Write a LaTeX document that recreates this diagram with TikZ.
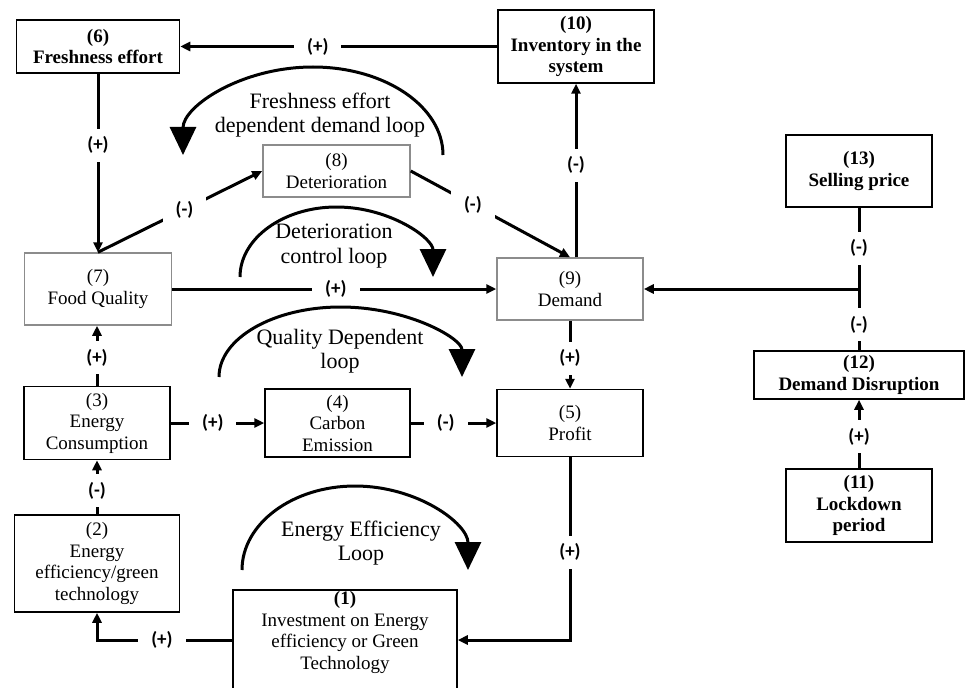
\documentclass[tikz,border=0pt]{standalone}
\usepackage{fontspec}
\setmainfont{Liberation Serif}
\newfontfamily\lblfont{Carlito}
\usetikzlibrary{arrows.meta}
\begin{document}
\begin{tikzpicture}[x=1pt,y=-1pt,
  box/.style={draw=black, line width=1.5pt, fill=white, align=center, inner sep=1pt, font=\fontsize{19}{21.5}\selectfont},
  gbox/.style={box, draw=black!45},
  bbox/.style={box, font=\fontsize{19}{21.5}\selectfont\bfseries},
  conn/.style={line width=3pt, -{Triangle[length=10pt,width=9pt]}},
  plain/.style={line width=3pt},
  lbl/.style={fill=white, font=\lblfont\bfseries\fontsize{19}{19}\selectfont, inner xsep=13pt, inner ysep=8pt},
  loopar/.style={line width=3pt, -{Triangle[length=28pt,width=26pt]}},
  looptxt/.style={align=center, font=\fontsize{22}{24.5}\selectfont}
]
\fill[white] (0,0) rectangle (965,687);
\useasboundingbox (0,0) rectangle (965,687);

% loops
\draw[loopar] (443,155) arc[start angle=0,end angle=180,x radius=130pt,y radius=88pt];
\draw[loopar] (240,277) arc[start angle=180,end angle=0,x radius=96.5pt,y radius=70pt];
\draw[loopar] (219,377) arc[start angle=180,end angle=0,x radius=121.5pt,y radius=70pt];
\draw[loopar] (242,570) arc[start angle=180,end angle=0,x radius=113pt,y radius=84pt];
\node[looptxt] (t1) at (320,115) {Freshness effort\\dependent demand loop};
\node[looptxt] (t2) at (334,246) {Deterioration\\control loop};
\node[looptxt] (t3) at (340,351) {Quality Dependent\\loop};
\node[looptxt] (t4) at (361,543) {Energy Efficiency\\Loop};

% boxes
\node[bbox, minimum width=163pt, minimum height=53pt] (n6) at (98,46.5) {(6)\\Freshness effort};
\node[bbox, minimum width=156pt, minimum height=73pt] (n10) at (576,46.5) {(10)\\Inventory in the\\system};
\node[gbox, minimum width=147pt, minimum height=52pt] (n8) at (336.5,171) {(8)\\Deterioration};
\node[bbox, minimum width=146pt, minimum height=72pt] (n13) at (859,171) {(13)\\Selling price};
\node[gbox, minimum width=147pt, minimum height=72pt] (n7) at (98,289) {(7)\\Food Quality};
\node[gbox, minimum width=146pt, minimum height=62pt] (n9) at (570,289) {(9)\\Demand};
\node[box, minimum width=146pt, minimum height=73pt] (n3) at (97,423) {(3)\\Energy\\Consumption};
\node[box, minimum width=145pt, minimum height=68pt] (n4) at (337.5,423) {(4)\\Carbon\\Emission};
\node[box, minimum width=146pt, minimum height=67pt] (n5) at (570,423) {(5)\\Profit};
\node[bbox, minimum width=210pt, minimum height=48pt] (n12) at (859,375) {(12)\\Demand Disruption};
\node[bbox, minimum width=146pt, minimum height=73pt] (n11) at (859,505.5) {(11)\\Lockdown\\period};
\node[box, minimum width=165pt, minimum height=97pt] (n2) at (97,563.5) {(2)\\Energy\\efficiency/green\\technology};
\node[box, minimum width=224pt, minimum height=100pt] (n1) at (345,640) {};
\node[align=center, anchor=north, inner sep=0pt, font=\fontsize{19}{21.5}\selectfont] (n1t) at ([yshift=-2pt]n1.north) {\textbf{(1)}\\Investment on Energy\\efficiency or Green\\Technology};

% connectors
\draw[conn] (n10.west) -- node[lbl,pos=0.566]{(+)} (n6.east);
\draw[conn] (n6.south) -- node[lbl,pos=0.4]{(+)} (n7.north);
\draw[conn] (n7.north) -- node[lbl,pos=0.527]{(-)} (n8.west);
\draw[conn] (n8.east) -- node[lbl,pos=0.39]{(-)} (n9.north);
\draw[conn] (n10.south |- n9.north) -- node[lbl,pos=0.53]{(-)} (n10.south);
\draw[conn] (n7.east) -- node[lbl,pos=0.505]{(+)} (n9.west);
\draw[conn] (n13.south) |- node[lbl,pos=0.25]{(-)} (n9.east);
\draw[plain] (n12.north) -- node[lbl,pos=0.42]{(-)} (n12.north |- n9.east);
\draw[conn] (n11.north) -- node[lbl,pos=0.457]{(+)} (n12.south);
\draw[conn] (n9.south) -- node[lbl,pos=0.55]{(+)} (n5.north);
\draw[conn] (n3.east) -- node[lbl,pos=0.45]{(+)} (n4.west);
\draw[conn] (n4.east) -- node[lbl,pos=0.41]{(-)} (n5.west);
\draw[conn] (n3.north) -- node[lbl,pos=0.47]{(+)} (n3.north |- n7.south);
\draw[conn] (n2.north) -- node[lbl,pos=0.44]{(-)} (n3.south);
\draw[conn] (n5.south) |- node[lbl,pos=0.26]{(+)} (n1.east);
\draw[conn] (n1.west) -| node[lbl,pos=0.26]{(+)} (n2.south);
\end{tikzpicture}
\end{document}
